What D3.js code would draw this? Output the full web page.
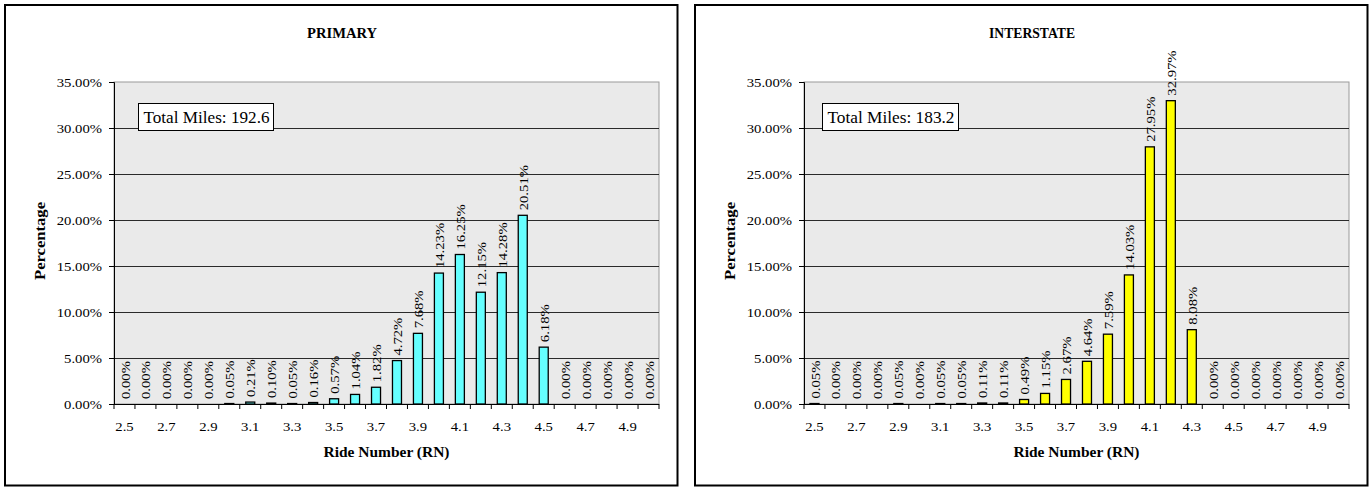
<!DOCTYPE html>
<html>
<head>
<meta charset="utf-8">
<script src="https://cdn.jsdelivr.net/npm/d3@7"></script>
<style>
  html, body { margin: 0; padding: 0; background: #fff; }
  svg { display: block; }
  text { font-family: "Liberation Serif", "Times New Roman", serif; fill: #000; }
</style>
</head>
<body>
<svg id="chart" width="1372" height="487"></svg>
<script>
// ---- data ----
const categories = ["2.5","2.6","2.7","2.8","2.9","3.0","3.1","3.2","3.3","3.4","3.5","3.6","3.7",
                    "3.8","3.9","4.0","4.1","4.2","4.3","4.4","4.5","4.6","4.7","4.8","4.9","5.0"];
const xTickLabels = ["2.5","2.7","2.9","3.1","3.3","3.5","3.7","3.9","4.1","4.3","4.5","4.7","4.9"];
const yTickValues = [0, 0.05, 0.10, 0.15, 0.20, 0.25, 0.30, 0.35];
const primaryValues = [0.00, 0.00, 0.00, 0.00, 0.00, 0.05, 0.21, 0.10, 0.05, 0.16, 0.57, 1.04, 1.82,
                       4.72, 7.68, 14.23, 16.25, 12.15, 14.28, 20.51, 6.18, 0.00, 0.00, 0.00, 0.00, 0.00];
const interstateValues = [0.05, 0.00, 0.00, 0.00, 0.05, 0.00, 0.05, 0.05, 0.11, 0.11, 0.49, 1.15, 2.67,
                          4.64, 7.59, 14.03, 27.95, 32.97, 8.08, 0.00, 0.00, 0.00, 0.00, 0.00, 0.00, 0.00];
const panelTitles = ["PRIMARY", "INTERSTATE"];
const totalMilesLabels = ["Total Miles: 192.6", "Total Miles: 183.2"];
const xAxisTitle = "Ride Number (RN)";
const yAxisTitle = "Percentage";

// ---- layout ----
const FONT = "Liberation Serif, Times New Roman, serif";
const K = 1.13; // horizontal stretch of the small text, as in the reference rendering
const svg = d3.select("#chart");
const panels = [
  { ox: 0,   values: primaryValues,    color: "#66FFFF", title: panelTitles[0], titleLen: 70, miles: totalMilesLabels[0], boxX: 138, boxW: 135 },
  { ox: 690, values: interstateValues, color: "#FFFF00", title: panelTitles[1], titleLen: 86, miles: totalMilesLabels[1], boxX: 132, boxW: 136 }
];
const plot = { left: 114, right: 659, top: 82, bottom: 404 };

panels.forEach(p => {
  const g = svg.append("g").attr("transform", `translate(${p.ox},0)`).attr("font-family", FONT);

  // panel frame
  g.append("rect").attr("x", 5).attr("y", 5).attr("width", 672.5).attr("height", 480.5)
    .attr("fill", "#fff").attr("stroke", "#000").attr("stroke-width", 2);

  const x = d3.scaleBand().domain(categories).range([plot.left, plot.right])
    .paddingInner(0.57).paddingOuter(0.285);
  const y = d3.scaleLinear().domain([0, 0.35]).range([plot.bottom, plot.top]);
  const step = x.step();

  // plot area
  g.append("rect").attr("x", plot.left).attr("y", plot.top)
    .attr("width", plot.right - plot.left).attr("height", plot.bottom - plot.top)
    .attr("fill", "#EAEAEA").attr("stroke", "#9A9A9A").attr("stroke-width", 1);

  // gridlines
  g.append("g").selectAll("line").data(yTickValues.filter(v => v > 0 && v < 0.35)).join("line")
    .attr("x1", plot.left).attr("x2", plot.right)
    .attr("y1", d => Math.round(y(d)) + 0.5).attr("y2", d => Math.round(y(d)) + 0.5)
    .attr("stroke", "#2a2a2a").attr("stroke-width", 1);

  // bars
  const data = categories.map((c, i) => ({ c, v: p.values[i] }));
  g.append("g").selectAll("rect").data(data).join("rect")
    .attr("x", d => x(d.c)).attr("width", x.bandwidth())
    .attr("y", d => y(d.v / 100)).attr("height", d => plot.bottom - y(d.v / 100))
    .attr("fill", p.color).attr("stroke", "#000").attr("stroke-width", 1.3);

  // data labels
  g.append("g").attr("font-size", 13).selectAll("text").data(data).join("text")
    .attr("transform", d => `translate(${x(d.c) + x.bandwidth() / 2 + 0.5},${y(d.v / 100) - 5}) rotate(-90) scale(${K},1)`)
    .attr("dy", "0.35em")
    .text(d => d.v.toFixed(2) + "%");

  // y axis
  const yAxis = g.append("g").attr("transform", `translate(${plot.left},0)`)
    .call(d3.axisLeft(y).tickValues(yTickValues).tickFormat(d3.format(".2%")).tickSize(5).tickPadding(7));
  yAxis.attr("font-size", 13).attr("font-family", FONT);
  yAxis.select(".domain").attr("stroke", "#000");
  yAxis.selectAll(".tick text").attr("fill", "#000")
    .attr("transform", `scale(${K},1)`).attr("x", -12 / K);

  // x axis (labels at category centres, ticks between categories)
  const xAxis = g.append("g").attr("transform", `translate(0,${plot.bottom})`)
    .call(d3.axisBottom(x).tickValues(xTickLabels).tickSize(0).tickPadding(18));
  xAxis.attr("font-size", 13).attr("font-family", FONT);
  xAxis.select(".domain").remove();
  xAxis.selectAll(".tick text").attr("fill", "#000").attr("transform", `scale(${K},1)`);
  g.append("line").attr("x1", plot.left).attr("x2", plot.right)
    .attr("y1", plot.bottom + 0.5).attr("y2", plot.bottom + 0.5).attr("stroke", "#000");
  g.append("g").selectAll("line").data(categories.concat(["end"])).join("line")
    .attr("x1", (d, i) => plot.left + i * step).attr("x2", (d, i) => plot.left + i * step)
    .attr("y1", plot.bottom).attr("y2", plot.bottom + 5)
    .attr("stroke", "#000");

  // titles
  g.append("text").attr("x", 342).attr("y", 38).attr("text-anchor", "middle")
    .attr("font-size", 14).attr("font-weight", "bold")
    .attr("textLength", p.titleLen).attr("lengthAdjust", "spacingAndGlyphs").text(p.title);
  g.append("text").attr("x", (plot.left + plot.right) / 2).attr("y", 457).attr("text-anchor", "middle")
    .attr("font-size", 14.5).attr("font-weight", "bold")
    .attr("textLength", 126).attr("lengthAdjust", "spacingAndGlyphs").text(xAxisTitle);
  g.append("text").attr("transform", `translate(45,${(plot.top + plot.bottom) / 2 - 2}) rotate(-90)`)
    .attr("text-anchor", "middle")
    .attr("font-size", 14.5).attr("font-weight", "bold")
    .attr("textLength", 78).attr("lengthAdjust", "spacingAndGlyphs").text(yAxisTitle);

  // total miles box
  g.append("rect").attr("x", p.boxX + 0.5).attr("y", 103.5).attr("width", p.boxW).attr("height", 27)
    .attr("fill", "#fff").attr("stroke", "#000").attr("stroke-width", 1);
  g.append("text").attr("x", p.boxX + 5.5).attr("y", 123)
    .attr("font-size", 16.5)
    .attr("textLength", p.boxW - 9).attr("lengthAdjust", "spacingAndGlyphs").text(p.miles);
});
</script>
</body>
</html>
